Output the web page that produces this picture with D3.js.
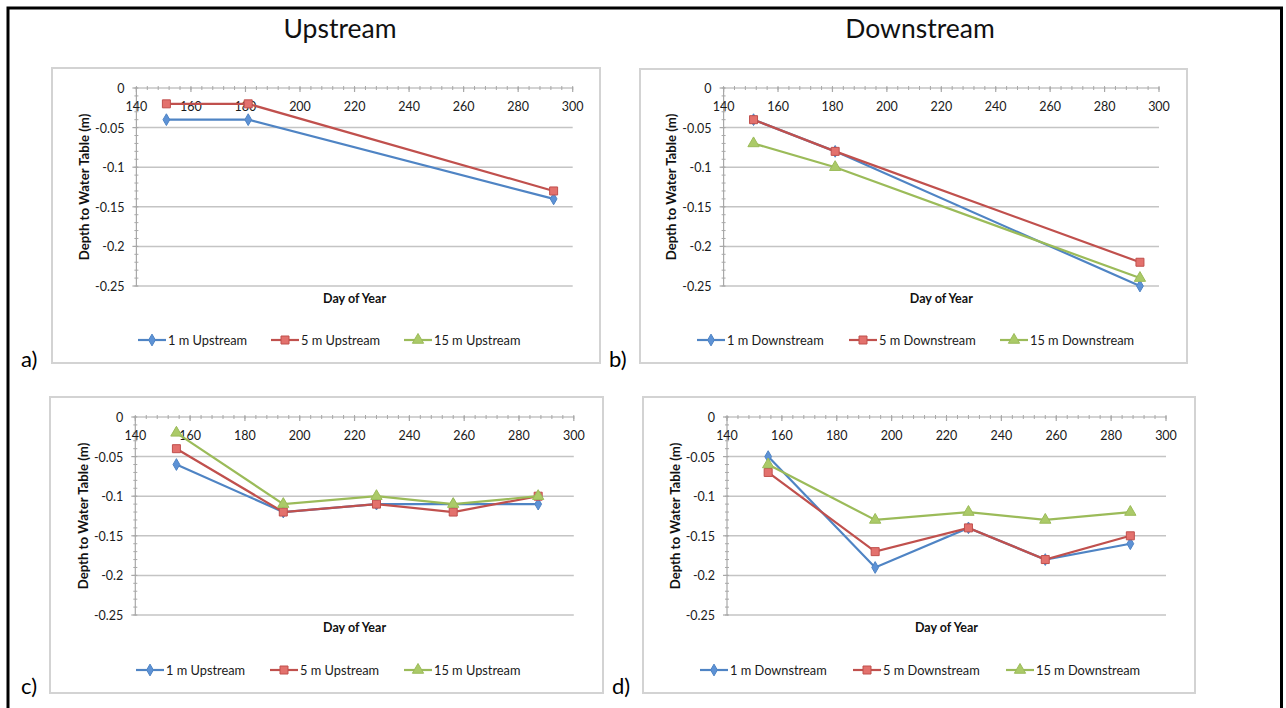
<!DOCTYPE html>
<html><head><meta charset="utf-8">
<script src="https://cdn.jsdelivr.net/npm/d3@7"></script>
<style>
body{margin:0;background:#fff}
svg{display:block}
text{font-family:Lato,"Open Sans",sans-serif}
</style>
</head><body>
<svg id="chart" width="1286" height="708"></svg>
<script>
// ---------------- data ----------------
const daysAB = [151, 181, 293];
const daysCD = [155, 194, 228, 256, 287];

const aUp1 = [-0.04, -0.04, -0.14];
const aUp5 = [-0.02, -0.02, -0.13];
const aUp15 = [];

const bDown1 = [-0.04, -0.08, -0.25];
const bDown5 = [-0.04, -0.08, -0.22];
const bDown15 = [-0.07, -0.10, -0.24];

const cUp1 = [-0.06, -0.12, -0.11, -0.11, -0.11];
const cUp5 = [-0.04, -0.12, -0.11, -0.12, -0.10];
const cUp15 = [-0.02, -0.11, -0.10, -0.11, -0.10];

const dDown1 = [-0.05, -0.19, -0.14, -0.18, -0.16];
const dDown5 = [-0.07, -0.17, -0.14, -0.18, -0.15];
const dDown15 = [-0.06, -0.13, -0.12, -0.13, -0.12];

const xTicks = [140, 160, 180, 200, 220, 240, 260, 280, 300];
const yTicks = [0, -0.05, -0.1, -0.15, -0.2, -0.25];
const yTickLabels = ["0", "-0.05", "-0.1", "-0.15", "-0.2", "-0.25"];

const columnTitles = ["Upstream", "Downstream"];
const panelLabels = ["a)", "b)", "c)", "d)"];
const upNames = ["1 m Upstream", "5 m Upstream", "15 m Upstream"];
const downNames = ["1 m Downstream", "5 m Downstream", "15 m Downstream"];
const xTitle = "Day of Year";
const yTitle = "Depth to Water Table (m)";

// ---------------- styles ----------------
const colors = ["#4f84c4", "#c0504d", "#9bbb59"];
const fills = ["#5d92d6", "#e3716d", "#abca68"];
const shapes = [d3.symbolDiamond, d3.symbolSquare, d3.symbolTriangle];
const shapeSizes = [40, 64, 55];

const panels = [
  {label: panelLabels[0], lx: 21, ly: 367, frame: [52, 68, 600, 363], plot: [136.4, 88, 572.7, 286],
   days: daysAB, series: [aUp1, aUp5, aUp15], names: upNames, legY: 340, legX: [138, 271, 404]},
  {label: panelLabels[1], lx: 609, ly: 367, frame: [640, 69, 1187, 363], plot: [723.6, 88, 1159, 286],
   days: daysAB, series: [bDown1, bDown5, bDown15], names: downNames, legY: 340, legX: [697, 849, 1000]},
  {label: panelLabels[2], lx: 21, ly: 694, frame: [50, 397, 603, 693], plot: [135.3, 417, 573.8, 615],
   days: daysCD, series: [cUp1, cUp5, cUp15], names: upNames, legY: 670, legX: [136, 270, 404]},
  {label: panelLabels[3], lx: 612, ly: 694, frame: [643, 397, 1195, 693], plot: [727, 417, 1166, 615],
   days: daysCD, series: [dDown1, dDown5, dDown15], names: downNames, legY: 670, legX: [700, 853, 1006]}
];

const svg = d3.select("#chart");

// outer table border (top, left, right)
svg.append("path")
  .attr("d", "M8,710 V8 H1281.5 V710")
  .attr("fill", "none").attr("stroke", "#000").attr("stroke-width", 3);

// column titles
[340, 920].forEach((cx, i) => {
  svg.append("text").attr("x", cx).attr("y", 38)
    .attr("text-anchor", "middle").attr("font-size", 26.5).attr("fill", "#111")
    .text(columnTitles[i]);
});

panels.forEach(p => {
  const g = svg.append("g");
  const [fx0, fy0, fx1, fy1] = p.frame;
  g.append("rect").attr("x", fx0).attr("y", fy0).attr("width", fx1 - fx0).attr("height", fy1 - fy0)
    .attr("fill", "#fff").attr("stroke", "#d3d3d3").attr("stroke-width", 2);

  // panel label
  svg.append("text").attr("x", p.lx).attr("y", p.ly).attr("font-size", 22).attr("fill", "#000").text(p.label);

  const [px0, py0, px1, py1] = p.plot;
  const x = d3.scaleLinear().domain([140, 300]).range([px0, px1]);
  const y = d3.scaleLinear().domain([0, -0.25]).range([py0, py1]);

  // gridlines
  g.selectAll(".grid").data(yTicks.slice(1)).join("line")
    .attr("x1", px0).attr("x2", px1)
    .attr("y1", d => y(d)).attr("y2", d => y(d))
    .attr("stroke", "#c4c4c4").attr("stroke-width", 1.5);

  // y axis line + ticks
  const axisColor = "#a8a8a8";
  g.append("line").attr("x1", px0).attr("x2", px0).attr("y1", py0).attr("y2", py1)
    .attr("stroke", axisColor).attr("stroke-width", 1.2);
  const yMinor = d3.range(0, 26).map(i => -i * 0.01);
  g.selectAll(".ymin").data(yMinor).join("line")
    .attr("x1", px0 - 2).attr("x2", px0 + 2)
    .attr("y1", d => y(d)).attr("y2", d => y(d))
    .attr("stroke", axisColor).attr("stroke-width", 1);
  g.selectAll(".ymaj").data(yTicks).join("line")
    .attr("x1", px0 - 4).attr("x2", px0 + 1)
    .attr("y1", d => y(d)).attr("y2", d => y(d))
    .attr("stroke", axisColor).attr("stroke-width", 1.2);

  // x axis line (at y=0) + ticks
  g.append("line").attr("x1", px0).attr("x2", px1).attr("y1", y(0)).attr("y2", y(0))
    .attr("stroke", axisColor).attr("stroke-width", 1.2);
  const xMinor = d3.range(140, 301, 4);
  g.selectAll(".xmin").data(xMinor).join("line")
    .attr("x1", d => x(d)).attr("x2", d => x(d))
    .attr("y1", y(0) - 2).attr("y2", y(0) + 2)
    .attr("stroke", axisColor).attr("stroke-width", 1);
  g.selectAll(".xmaj").data(xTicks).join("line")
    .attr("x1", d => x(d)).attr("x2", d => x(d))
    .attr("y1", y(0) - 1).attr("y2", y(0) + 4)
    .attr("stroke", axisColor).attr("stroke-width", 1.2);

  // tick labels
  g.selectAll(".xl").data(xTicks).join("text")
    .attr("x", d => x(d)).attr("y", y(0) + 23)
    .attr("text-anchor", "middle").attr("font-size", 12.5).attr("fill", "#1a1a1a")
    .text(d => d);
  g.selectAll(".yl").data(yTicks).join("text")
    .attr("x", px0 - 12).attr("y", d => y(d) + 5)
    .attr("text-anchor", "end").attr("font-size", 12.5).attr("fill", "#1a1a1a")
    .text((d, i) => yTickLabels[i]);

  // axis titles
  g.append("text").attr("x", (px0 + px1) / 2).attr("y", py1 + 16.5)
    .attr("text-anchor", "middle").attr("font-size", 12.5).attr("font-weight", "bold").attr("fill", "#111")
    .text(xTitle);
  g.append("text")
    .attr("transform", `translate(${px0 - 47.5},${(py0 + py1) / 2}) rotate(-90)`)
    .attr("text-anchor", "middle").attr("font-size", 13.2).attr("font-weight", "bold").attr("fill", "#111")
    .text(yTitle);

  // series
  const line = d3.line().x(d => x(d[0])).y(d => y(d[1]));
  p.series.forEach((vals, si) => {
    const pts = vals.map((v, i) => [p.days[i], v]);
    if (!pts.length) return;
    g.append("path").datum(pts).attr("d", line)
      .attr("fill", "none").attr("stroke", colors[si]).attr("stroke-width", 2.2);
    g.selectAll(".m" + si).data(pts).join("path")
      .attr("transform", d => `translate(${x(d[0])},${y(d[1])})`)
      .attr("d", d3.symbol().type(shapes[si]).size(shapeSizes[si]))
      .attr("fill", fills[si]).attr("stroke", colors[si]).attr("stroke-width", 1);
  });

  // legend
  p.names.forEach((name, si) => {
    const lx = p.legX[si];
    g.append("line").attr("x1", lx).attr("x2", lx + 28).attr("y1", p.legY).attr("y2", p.legY)
      .attr("stroke", colors[si]).attr("stroke-width", 2.2);
    g.append("path").attr("transform", `translate(${lx + 14},${p.legY})`)
      .attr("d", d3.symbol().type(shapes[si]).size(shapeSizes[si]))
      .attr("fill", fills[si]).attr("stroke", colors[si]).attr("stroke-width", 1);
    g.append("text").attr("x", lx + 30).attr("y", p.legY + 4.5)
      .attr("font-size", 12.8).attr("fill", "#1a1a1a").text(name);
  });
});
</script>
</body></html>
